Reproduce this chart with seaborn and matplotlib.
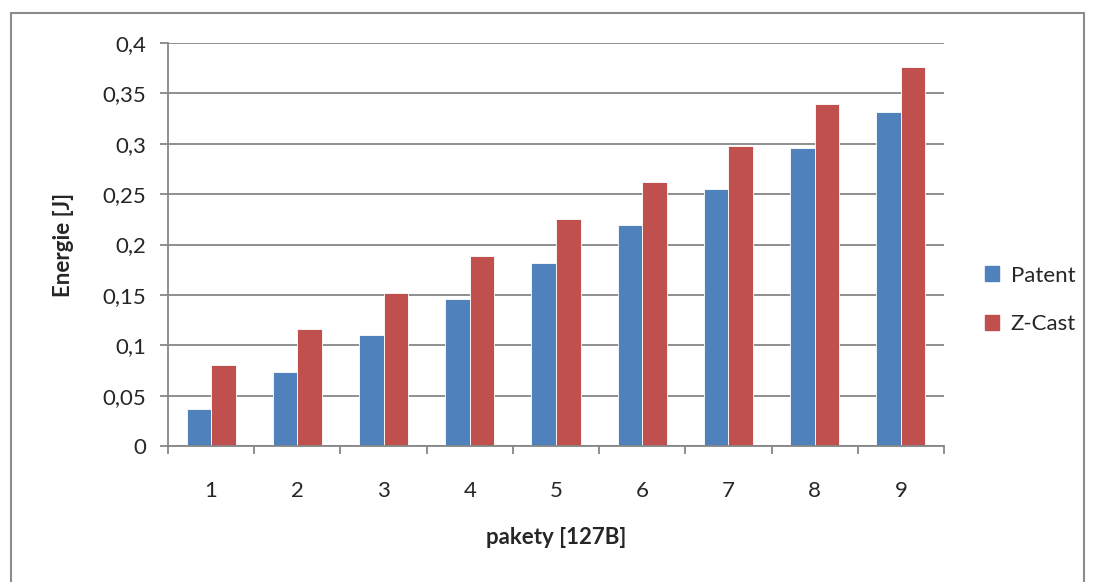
import matplotlib
matplotlib.use("Agg")
import matplotlib.pyplot as plt
import matplotlib.patches as mpatches
import matplotlib.ticker as mticker
import pandas as pd
import seaborn as sns

# data
pakety = [1, 2, 3, 4, 5, 6, 7, 8, 9]
patent = [0.037, 0.073, 0.110, 0.146, 0.182, 0.219, 0.255, 0.296, 0.332]
zcast = [0.080, 0.116, 0.152, 0.189, 0.225, 0.262, 0.298, 0.339, 0.376]
series = ["Patent", "Z-Cast"]
colors = ["#4F81BD", "#C0504D"]
y_ticks = [0, 0.05, 0.1, 0.15, 0.2, 0.25, 0.3, 0.35, 0.4]

df = pd.DataFrame({
    "pakety": pakety * 2,
    "energie": patent + zcast,
    "serie": ["Patent"] * len(pakety) + ["Z-Cast"] * len(pakety),
})

sns.set_style("white")
plt.rcParams["font.family"] = ["Lato", "DejaVu Sans"]

fig = plt.figure(figsize=(10.95, 5.82), dpi=100)
ax = fig.add_axes([168 / 1095, 1 - 446 / 582, (944 - 168) / 1095, (446 - 43) / 582])

sns.barplot(data=df, x="pakety", y="energie", hue="serie", palette=colors,
            saturation=1, width=0.57, edgecolor="white", linewidth=0.6,
            ax=ax, legend=False)

grid_c = "#868686"
ax.set_ylim(0, 0.4)
ax.set_xlim(-0.5, len(pakety) - 0.5)
ax.set_yticks(y_ticks)
ax.yaxis.set_major_formatter(mticker.FuncFormatter(
    lambda v, p: ("%g" % round(v, 2)).replace(".", ",")))
ax.yaxis.grid(True, color=grid_c, lw=1.3)
ax.set_axisbelow(True)
for s in ["top", "right"]:
    ax.spines[s].set_visible(False)
for s in ["left", "bottom"]:
    ax.spines[s].set_color(grid_c)
    ax.spines[s].set_linewidth(1.3)

ax.tick_params(axis="y", length=6, width=1.3, color=grid_c, pad=10, labelsize=16, left=True)
ax.tick_params(axis="x", which="major", length=0, pad=25, labelsize=16)
ax.set_xticks([i - 0.5 for i in range(len(pakety) + 1)], minor=True)
ax.tick_params(axis="x", which="minor", length=6, width=1.3, color=grid_c, bottom=True)

ax.set_xlabel("pakety [127B]", fontsize=16, fontweight="bold", labelpad=19)
ax.set_ylabel("Energie [J]", fontsize=16, fontweight="bold", labelpad=20)

handles = [mpatches.Patch(color=c, label=s) for s, c in zip(series, colors)]
fig.legend(handles=handles, loc="center left", bbox_to_anchor=(965 / 1095, 1 - 300 / 582),
           frameon=False, fontsize=16, handlelength=0.65, handleheight=0.65,
           handletextpad=0.5, labelspacing=1.3)

fig.patches.append(mpatches.Rectangle((11 / 1095, -0.05), (1084 - 11) / 1095, 1.05 - 13 / 582,
                                      transform=fig.transFigure, fill=False,
                                      edgecolor="#8c8c8c", lw=1.5))

fig.savefig("out.png", dpi=100)
